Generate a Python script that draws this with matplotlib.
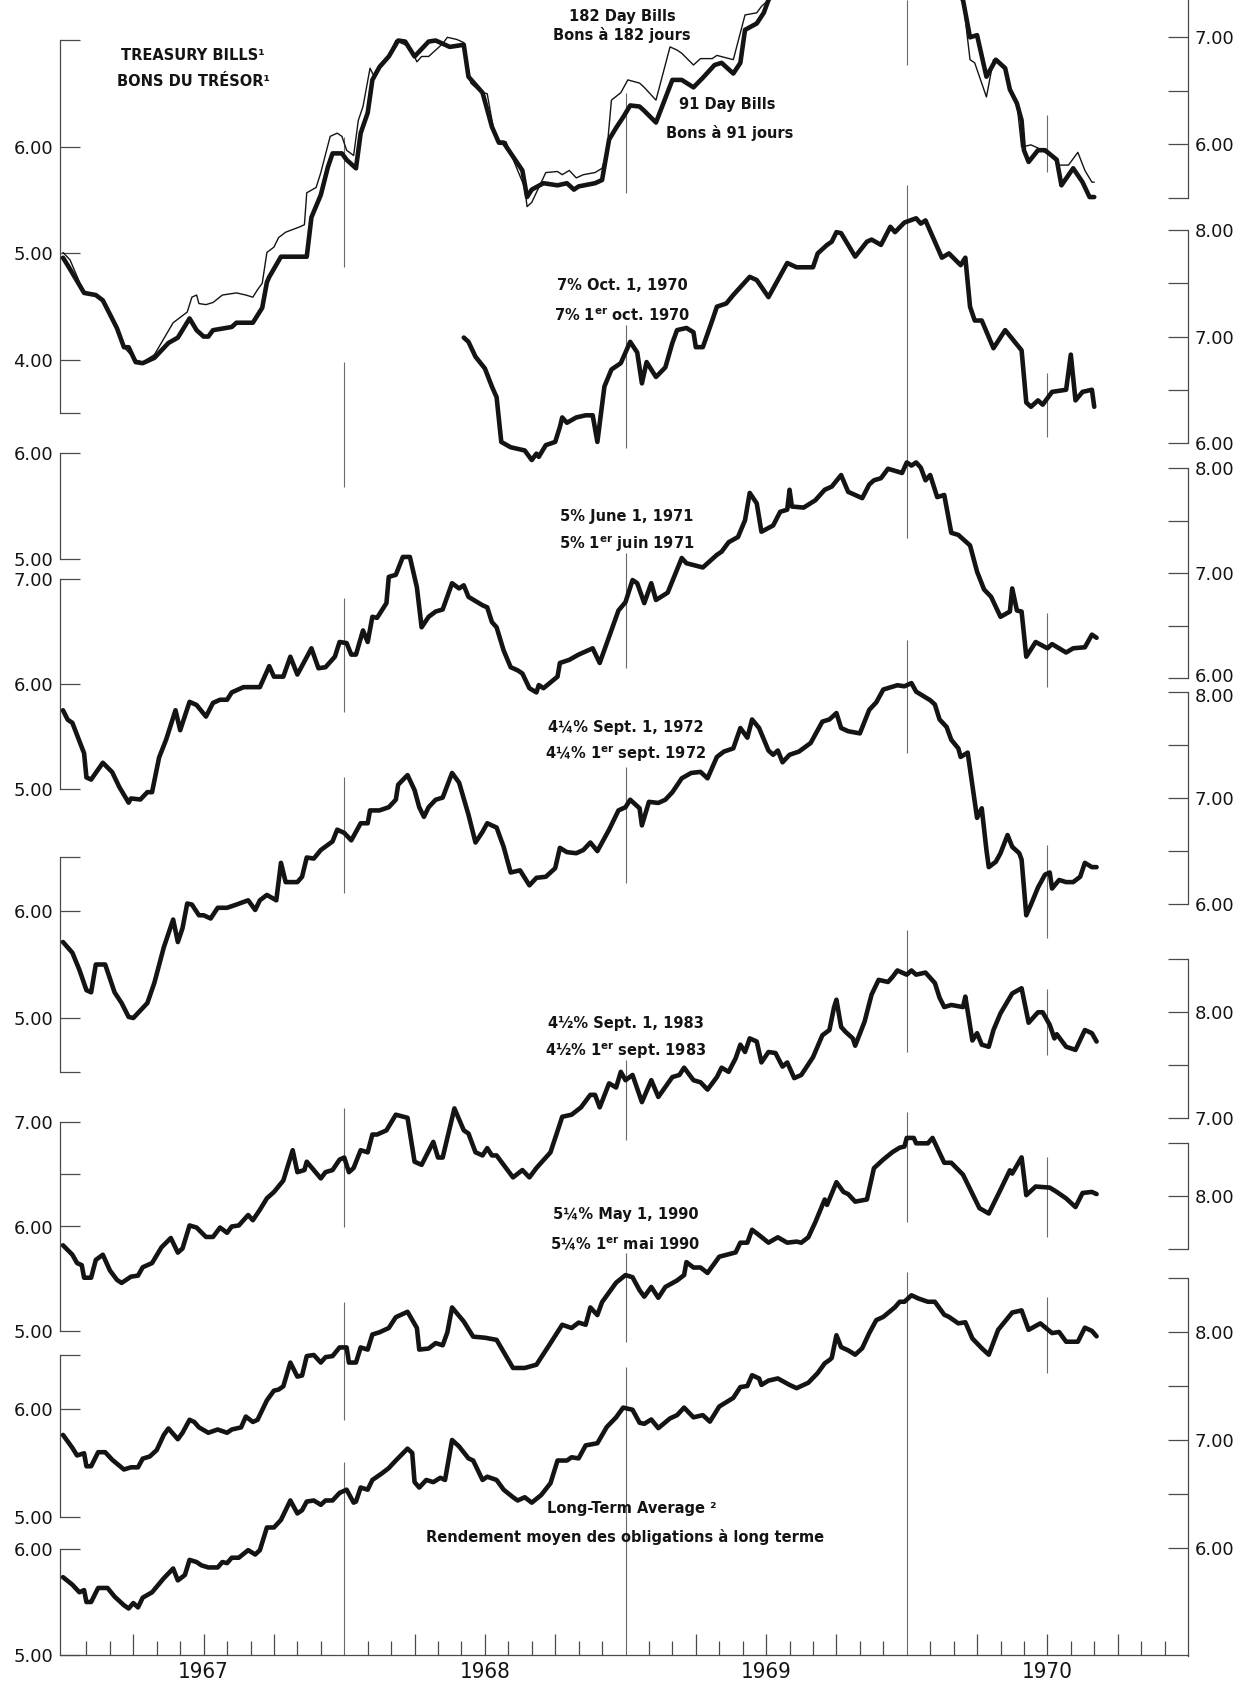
import numpy as np
import matplotlib.pyplot as plt
from matplotlib.transforms import ScaledTranslation

plt.rcParams['font.family'] = ['DejaVu Sans']

# Weekly yields, per cent: (months after 1 Jan 1967, yield)
bills_91 = [
    (0.0, 4.96), (0.2, 4.89), (0.9, 4.63), (1.4, 4.61), (1.7, 4.56), (2.3, 4.30), (2.6, 4.12),
    (2.8, 4.12), (3.1, 3.98), (3.4, 3.97), (3.9, 4.02), (4.5, 4.16), (4.9, 4.21), (5.4, 4.39),
    (5.7, 4.28), (6.0, 4.22), (6.2, 4.22), (6.4, 4.28), (7.2, 4.31), (7.4, 4.35), (8.1, 4.35),
    (8.5, 4.49), (8.7, 4.73), (8.8, 4.78), (9.3, 4.97), (10.4, 4.97), (10.6, 5.34), (11.0, 5.55),
    (11.3, 5.81), (11.5, 5.94), (11.9, 5.94), (12.1, 5.88), (12.5, 5.80), (12.7, 6.13), (13.0, 6.32),
    (13.2, 6.63), (13.5, 6.75), (13.9, 6.85), (14.3, 7.00), (14.6, 6.99), (15.0, 6.85), (15.6, 6.99),
    (15.9, 7.00), (16.2, 6.97), (16.5, 6.94), (17.1, 6.96), (17.3, 6.66), (17.9, 6.51), (18.3, 6.19),
    (18.6, 6.04), (18.8, 6.04), (19.6, 5.78), (19.8, 5.53), (20.0, 5.60), (20.5, 5.66), (21.1, 5.64),
    (21.5, 5.66), (21.8, 5.60), (22.0, 5.63), (22.7, 5.66), (23.0, 5.69), (23.3, 6.07), (23.6, 6.18),
    (23.9, 6.28), (24.2, 6.39), (24.6, 6.38), (24.8, 6.34), (25.3, 6.23), (26.0, 6.63), (26.4, 6.63),
    (26.9, 6.56), (27.3, 6.65), (27.8, 6.77), (28.1, 6.79), (28.6, 6.69), (28.9, 6.79), (29.1, 7.10),
    (29.6, 7.16), (29.9, 7.26), (30.1, 7.38), (30.6, 7.55), (31.5, 7.70), (32.5, 7.75), (33.5, 7.80),
    (34.5, 7.85), (35.5, 7.88), (36.5, 7.80), (37.3, 7.70), (38.0, 7.50), (38.4, 7.38), (38.7, 7.03),
    (39.0, 7.05), (39.4, 6.66), (39.8, 6.82), (40.2, 6.74), (40.4, 6.54), (40.7, 6.41), (40.9, 6.25),
    (41.0, 5.97), (41.2, 5.86), (41.6, 5.97), (41.9, 5.97), (42.4, 5.88), (42.6, 5.64), (43.1, 5.80),
    (43.5, 5.67), (43.8, 5.53), (44.0, 5.53),
]

bills_182 = [
    (0.0, 5.01), (0.3, 4.94), (0.9, 4.63), (1.4, 4.61), (1.7, 4.56), (2.3, 4.30), (2.6, 4.12),
    (3.1, 4.00), (3.4, 3.98), (3.9, 4.05), (4.7, 4.35), (5.3, 4.45), (5.5, 4.59), (5.7, 4.61),
    (5.8, 4.53), (6.1, 4.52), (6.4, 4.54), (6.8, 4.61), (7.4, 4.63), (7.8, 4.61), (8.1, 4.59),
    (8.3, 4.66), (8.5, 4.72), (8.7, 5.01), (9.0, 5.06), (9.2, 5.15), (9.5, 5.20), (10.1, 5.25),
    (10.3, 5.27), (10.4, 5.57), (10.8, 5.62), (11.0, 5.76), (11.4, 6.10), (11.7, 6.13), (11.9, 6.10),
    (12.1, 5.97), (12.4, 5.92), (12.6, 6.25), (12.8, 6.38), (13.1, 6.74), (13.3, 6.65), (13.5, 6.77),
    (13.9, 6.86), (14.2, 7.00), (14.8, 6.94), (15.1, 6.80), (15.3, 6.85), (15.6, 6.85), (16.2, 6.97),
    (16.4, 7.03), (16.8, 7.01), (17.1, 6.98), (17.4, 6.60), (17.8, 6.52), (18.1, 6.50), (18.4, 6.13),
    (18.5, 6.06), (18.9, 6.05), (19.1, 5.94), (19.7, 5.62), (19.8, 5.44), (20.0, 5.48), (20.6, 5.76),
    (21.1, 5.77), (21.3, 5.74), (21.6, 5.78), (21.9, 5.71), (22.2, 5.74), (22.7, 5.76), (23.0, 5.80),
    (23.2, 5.95), (23.4, 6.44), (23.8, 6.51), (24.1, 6.63), (24.6, 6.60), (24.8, 6.56), (25.3, 6.44),
    (25.9, 6.94), (26.2, 6.91), (26.4, 6.88), (26.9, 6.77), (27.2, 6.83), (27.7, 6.83), (27.9, 6.86),
    (28.6, 6.82), (29.1, 7.24), (29.6, 7.26), (29.8, 7.32), (30.1, 7.38), (30.6, 7.60), (31.5, 7.80),
    (32.5, 7.85), (33.5, 7.90), (34.5, 7.95), (35.5, 7.95), (36.5, 7.85), (37.3, 7.70), (38.0, 7.50),
    (38.4, 7.38), (38.7, 6.82), (38.9, 6.79), (39.4, 6.47), (39.7, 6.82), (40.2, 6.74), (40.4, 6.54),
    (40.7, 6.41), (40.9, 6.00), (41.3, 6.02), (41.6, 5.99), (42.2, 5.91), (42.5, 5.83), (42.9, 5.83),
    (43.3, 5.95), (43.6, 5.78), (43.9, 5.67), (44.0, 5.67),
]

bond_7_1970 = [
    (17.1, 6.99), (17.3, 6.95), (17.6, 6.81), (18.0, 6.70), (18.3, 6.53), (18.5, 6.43), (18.6, 6.22),
    (18.7, 6.01), (19.1, 5.96), (19.7, 5.93), (20.0, 5.84), (20.2, 5.90), (20.3, 5.87), (20.6, 5.98),
    (21.0, 6.01), (21.2, 6.15), (21.3, 6.24), (21.5, 6.19), (21.9, 6.24), (22.3, 6.26), (22.6, 6.26),
    (22.8, 6.01), (23.1, 6.53), (23.4, 6.69), (23.8, 6.75), (24.2, 6.95), (24.5, 6.85), (24.7, 6.56),
    (24.9, 6.76), (25.3, 6.62), (25.7, 6.71), (26.0, 6.94), (26.2, 7.06), (26.6, 7.08), (26.9, 7.04),
    (27.0, 6.90), (27.3, 6.90), (27.7, 7.15), (27.9, 7.28), (28.3, 7.31), (28.6, 7.39), (29.3, 7.56),
    (29.6, 7.53), (30.1, 7.37), (30.9, 7.69), (31.3, 7.65), (32.0, 7.65), (32.2, 7.78), (32.6, 7.86),
    (32.8, 7.89), (33.0, 7.98), (33.2, 7.97), (33.8, 7.75), (34.3, 7.89), (34.5, 7.91), (34.9, 7.86),
    (35.3, 8.03), (35.5, 7.98), (35.9, 8.07), (36.4, 8.11), (36.6, 8.06), (36.8, 8.09), (37.5, 7.74),
    (37.8, 7.78), (38.3, 7.67), (38.5, 7.74), (38.7, 7.28), (38.9, 7.15), (39.2, 7.15), (39.7, 6.89),
    (40.2, 7.06), (40.9, 6.87), (41.1, 6.38), (41.3, 6.34), (41.6, 6.40), (41.8, 6.36), (42.2, 6.48),
    (42.8, 6.50), (43.0, 6.83), (43.2, 6.40), (43.5, 6.48), (43.9, 6.50), (44.0, 6.34),
]

bond_5_1971 = [
    (0.0, 5.75), (0.2, 5.66), (0.4, 5.63), (0.9, 5.34), (1.0, 5.11), (1.2, 5.09), (1.7, 5.25),
    (2.1, 5.16), (2.4, 5.02), (2.8, 4.87), (2.9, 4.91), (3.3, 4.90), (3.6, 4.97), (3.8, 4.97),
    (4.1, 5.30), (4.4, 5.47), (4.8, 5.75), (5.0, 5.56), (5.4, 5.83), (5.7, 5.80), (6.1, 5.69),
    (6.4, 5.82), (6.7, 5.85), (7.0, 5.85), (7.2, 5.92), (7.7, 5.97), (8.4, 5.97), (8.8, 6.17),
    (9.0, 6.07), (9.4, 6.07), (9.7, 6.26), (10.0, 6.09), (10.6, 6.34), (10.9, 6.15), (11.2, 6.16),
    (11.6, 6.26), (11.8, 6.40), (12.1, 6.39), (12.3, 6.28), (12.5, 6.28), (12.8, 6.51), (13.0, 6.40),
    (13.2, 6.64), (13.4, 6.63), (13.8, 6.77), (13.9, 7.02), (14.2, 7.04), (14.5, 7.21), (14.8, 7.21),
    (15.1, 6.92), (15.3, 6.54), (15.6, 6.64), (15.9, 6.69), (16.2, 6.71), (16.6, 6.96), (16.9, 6.91),
    (17.1, 6.94), (17.3, 6.83), (17.9, 6.75), (18.1, 6.73), (18.3, 6.59), (18.5, 6.54), (18.8, 6.32),
    (19.1, 6.16), (19.4, 6.13), (19.6, 6.10), (19.9, 5.96), (20.2, 5.92), (20.3, 5.99), (20.5, 5.96),
    (21.1, 6.07), (21.2, 6.20), (21.6, 6.23), (22.0, 6.28), (22.6, 6.34), (22.9, 6.20), (23.3, 6.45),
    (23.7, 6.70), (24.0, 6.78), (24.3, 6.99), (24.5, 6.96), (24.8, 6.77), (25.1, 6.96), (25.3, 6.80),
    (25.8, 6.87), (26.4, 7.20), (26.6, 7.15), (27.3, 7.11), (27.9, 7.23), (28.1, 7.26), (28.4, 7.35),
    (28.8, 7.40), (29.1, 7.56), (29.3, 7.82), (29.6, 7.72), (29.8, 7.45), (30.3, 7.51), (30.6, 7.64),
    (30.9, 7.66), (31.0, 7.85), (31.1, 7.69), (31.6, 7.68), (32.1, 7.75), (32.5, 7.85), (32.8, 7.88),
    (33.2, 7.99), (33.5, 7.83), (34.1, 7.77), (34.4, 7.90), (34.6, 7.94), (34.9, 7.96), (35.2, 8.05),
    (35.8, 8.01), (36.0, 8.11), (36.2, 8.08), (36.4, 8.11), (36.6, 8.06), (36.8, 7.94), (37.0, 7.99),
    (37.3, 7.78), (37.6, 7.80), (37.9, 7.44), (38.2, 7.42), (38.7, 7.32), (39.0, 7.07), (39.3, 6.90),
    (39.6, 6.83), (40.0, 6.64), (40.4, 6.69), (40.5, 6.91), (40.7, 6.70), (40.9, 6.69), (41.1, 6.26),
    (41.5, 6.40), (42.0, 6.34), (42.2, 6.38), (42.8, 6.30), (43.1, 6.34), (43.6, 6.35), (43.9, 6.47),
    (44.1, 6.44),
]

bond_425_1972 = [
    (0.0, 5.71), (0.4, 5.61), (0.7, 5.45), (1.0, 5.26), (1.2, 5.24), (1.4, 5.50), (1.8, 5.50),
    (2.2, 5.24), (2.5, 5.14), (2.8, 5.01), (3.0, 5.00), (3.3, 5.07), (3.6, 5.14), (3.9, 5.33),
    (4.3, 5.66), (4.7, 5.92), (4.9, 5.71), (5.1, 5.84), (5.3, 6.07), (5.5, 6.06), (5.8, 5.96),
    (6.0, 5.96), (6.3, 5.93), (6.6, 6.03), (7.0, 6.03), (7.4, 6.06), (7.9, 6.10), (8.2, 6.01),
    (8.4, 6.10), (8.7, 6.15), (9.1, 6.10), (9.3, 6.45), (9.5, 6.27), (10.0, 6.27), (10.2, 6.32),
    (10.4, 6.50), (10.7, 6.49), (11.0, 6.57), (11.5, 6.65), (11.7, 6.76), (12.0, 6.73), (12.3, 6.66),
    (12.7, 6.82), (13.0, 6.82), (13.1, 6.94), (13.5, 6.94), (13.9, 6.97), (14.2, 7.04), (14.3, 7.18),
    (14.7, 7.27), (15.0, 7.13), (15.2, 6.97), (15.4, 6.88), (15.6, 6.97), (15.9, 7.04), (16.2, 7.06),
    (16.6, 7.29), (16.9, 7.20), (17.3, 6.90), (17.6, 6.64), (17.9, 6.74), (18.1, 6.82), (18.5, 6.78),
    (18.8, 6.60), (19.1, 6.36), (19.5, 6.38), (19.9, 6.24), (20.2, 6.31), (20.6, 6.32), (21.0, 6.40),
    (21.2, 6.59), (21.5, 6.55), (21.9, 6.54), (22.2, 6.57), (22.5, 6.64), (22.8, 6.56), (23.3, 6.76),
    (23.7, 6.94), (24.0, 6.97), (24.2, 7.04), (24.6, 6.96), (24.7, 6.80), (25.0, 7.02), (25.4, 7.01),
    (25.7, 7.04), (26.0, 7.11), (26.4, 7.24), (26.8, 7.29), (27.2, 7.30), (27.5, 7.24), (27.9, 7.44),
    (28.2, 7.49), (28.6, 7.52), (28.9, 7.71), (29.2, 7.62), (29.4, 7.79), (29.7, 7.71), (30.1, 7.50),
    (30.3, 7.46), (30.5, 7.50), (30.7, 7.39), (31.0, 7.46), (31.4, 7.49), (31.9, 7.57), (32.4, 7.77),
    (32.7, 7.79), (33.0, 7.85), (33.2, 7.71), (33.5, 7.68), (34.0, 7.66), (34.4, 7.88), (34.7, 7.95),
    (35.0, 8.07), (35.3, 8.09), (35.6, 8.11), (35.9, 8.10), (36.2, 8.13), (36.4, 8.05), (37.0, 7.97),
    (37.2, 7.93), (37.4, 7.79), (37.7, 7.72), (37.9, 7.60), (38.2, 7.52), (38.3, 7.44), (38.6, 7.48),
    (39.0, 6.87), (39.2, 6.96), (39.4, 6.57), (39.5, 6.41), (39.8, 6.46), (40.0, 6.54), (40.3, 6.71),
    (40.5, 6.60), (40.8, 6.54), (40.9, 6.48), (41.1, 5.96), (41.3, 6.06), (41.6, 6.22), (41.9, 6.34),
    (42.1, 6.36), (42.2, 6.21), (42.5, 6.29), (42.8, 6.27), (43.1, 6.27), (43.4, 6.32), (43.6, 6.45),
    (43.9, 6.41), (44.1, 6.41),
]

bond_45_1983 = [
    (0.0, 5.82), (0.4, 5.73), (0.6, 5.65), (0.8, 5.63), (0.9, 5.51), (1.2, 5.51), (1.4, 5.68),
    (1.7, 5.73), (2.0, 5.58), (2.3, 5.49), (2.5, 5.46), (2.9, 5.52), (3.2, 5.53), (3.4, 5.61),
    (3.8, 5.65), (4.2, 5.80), (4.6, 5.89), (4.9, 5.75), (5.1, 5.79), (5.4, 6.01), (5.7, 5.99),
    (6.1, 5.90), (6.4, 5.90), (6.7, 5.99), (7.0, 5.94), (7.2, 6.00), (7.5, 6.01), (7.9, 6.11),
    (8.1, 6.06), (8.4, 6.16), (8.7, 6.27), (9.0, 6.33), (9.4, 6.44), (9.8, 6.73), (10.0, 6.52),
    (10.3, 6.54), (10.4, 6.62), (11.0, 6.46), (11.2, 6.52), (11.5, 6.54), (11.8, 6.64), (12.0, 6.66),
    (12.2, 6.52), (12.4, 6.56), (12.7, 6.73), (13.0, 6.71), (13.2, 6.88), (13.4, 6.88), (13.8, 6.92),
    (14.2, 7.07), (14.7, 7.04), (15.0, 6.62), (15.3, 6.59), (15.8, 6.81), (16.0, 6.66), (16.2, 6.66),
    (16.7, 7.13), (17.1, 6.92), (17.3, 6.89), (17.6, 6.71), (17.9, 6.68), (18.1, 6.75), (18.3, 6.68),
    (18.5, 6.68), (19.2, 6.47), (19.6, 6.54), (19.9, 6.47), (20.2, 6.56), (20.6, 6.66), (20.8, 6.71),
    (21.3, 7.05), (21.7, 7.07), (22.1, 7.14), (22.5, 7.26), (22.7, 7.26), (22.9, 7.14), (23.3, 7.37),
    (23.6, 7.33), (23.8, 7.48), (24.0, 7.40), (24.3, 7.45), (24.7, 7.19), (25.1, 7.40), (25.4, 7.24),
    (26.0, 7.43), (26.3, 7.45), (26.5, 7.52), (26.9, 7.40), (27.2, 7.38), (27.5, 7.31), (27.9, 7.43),
    (28.1, 7.52), (28.4, 7.48), (28.7, 7.61), (28.9, 7.74), (29.1, 7.67), (29.3, 7.80), (29.6, 7.77),
    (29.8, 7.57), (30.1, 7.67), (30.4, 7.66), (30.7, 7.53), (30.9, 7.57), (31.2, 7.42), (31.5, 7.45),
    (32.0, 7.62), (32.4, 7.83), (32.7, 7.88), (32.9, 8.10), (33.0, 8.17), (33.2, 7.91), (33.4, 7.86),
    (33.7, 7.80), (33.8, 7.73), (34.2, 7.96), (34.5, 8.22), (34.8, 8.36), (35.2, 8.34), (35.4, 8.39),
    (35.6, 8.45), (36.0, 8.41), (36.2, 8.45), (36.4, 8.41), (36.8, 8.43), (37.2, 8.33), (37.4, 8.19),
    (37.6, 8.10), (37.9, 8.12), (38.4, 8.10), (38.5, 8.20), (38.8, 7.78), (39.0, 7.85), (39.2, 7.74),
    (39.5, 7.72), (39.7, 7.88), (40.0, 8.04), (40.5, 8.23), (40.9, 8.28), (41.2, 7.95), (41.6, 8.05),
    (41.8, 8.05), (42.1, 7.93), (42.3, 7.80), (42.4, 7.84), (42.8, 7.72), (43.2, 7.69), (43.6, 7.88),
    (43.9, 7.85), (44.1, 7.77),
]

bond_525_1990 = [
    (0.0, 5.76), (0.4, 5.64), (0.6, 5.57), (0.9, 5.59), (1.0, 5.47), (1.2, 5.47), (1.5, 5.60),
    (1.8, 5.60), (2.1, 5.53), (2.6, 5.44), (2.9, 5.46), (3.2, 5.46), (3.4, 5.54), (3.7, 5.56),
    (4.0, 5.62), (4.3, 5.76), (4.5, 5.82), (4.9, 5.72), (5.1, 5.78), (5.4, 5.90), (5.6, 5.88),
    (5.8, 5.83), (6.2, 5.78), (6.6, 5.81), (7.0, 5.78), (7.2, 5.81), (7.6, 5.83), (7.8, 5.93),
    (8.1, 5.88), (8.3, 5.90), (8.7, 6.08), (9.0, 6.17), (9.2, 6.18), (9.4, 6.21), (9.7, 6.43),
    (10.0, 6.30), (10.2, 6.31), (10.4, 6.49), (10.7, 6.50), (11.0, 6.43), (11.2, 6.48), (11.5, 6.49),
    (11.8, 6.57), (12.1, 6.57), (12.2, 6.43), (12.5, 6.43), (12.7, 6.57), (13.0, 6.55), (13.2, 6.69),
    (13.5, 6.71), (13.9, 6.75), (14.2, 6.85), (14.7, 6.90), (15.1, 6.75), (15.2, 6.55), (15.6, 6.56),
    (15.9, 6.61), (16.2, 6.59), (16.4, 6.71), (16.6, 6.94), (17.1, 6.81), (17.5, 6.67), (18.0, 6.66),
    (18.5, 6.64), (19.2, 6.38), (19.7, 6.38), (20.2, 6.41), (20.8, 6.61), (21.3, 6.78), (21.7, 6.75),
    (22.0, 6.80), (22.3, 6.78), (22.5, 6.94), (22.8, 6.87), (23.0, 6.99), (23.6, 7.17), (24.0, 7.24),
    (24.3, 7.22), (24.6, 7.10), (24.8, 7.04), (25.1, 7.13), (25.4, 7.03), (25.7, 7.13), (26.2, 7.19),
    (26.5, 7.24), (26.6, 7.36), (26.9, 7.31), (27.2, 7.31), (27.5, 7.26), (27.8, 7.35), (28.0, 7.41),
    (28.7, 7.45), (28.9, 7.54), (29.2, 7.54), (29.4, 7.66), (29.7, 7.61), (30.1, 7.54), (30.5, 7.59),
    (30.9, 7.54), (31.3, 7.55), (31.5, 7.54), (31.8, 7.59), (32.1, 7.73), (32.5, 7.94), (32.6, 7.89),
    (33.0, 8.10), (33.3, 8.01), (33.5, 7.99), (33.8, 7.92), (34.3, 7.94), (34.6, 8.23), (35.0, 8.31),
    (35.4, 8.38), (35.7, 8.42), (35.9, 8.43), (36.0, 8.51), (36.3, 8.51), (36.4, 8.46), (36.9, 8.46),
    (37.1, 8.51), (37.6, 8.28), (37.9, 8.28), (38.4, 8.17), (39.1, 7.86), (39.5, 7.81), (40.0, 8.03),
    (40.4, 8.21), (40.5, 8.18), (40.9, 8.33), (41.1, 7.98), (41.5, 8.06), (42.1, 8.05), (42.4, 8.01),
    (42.8, 7.95), (43.2, 7.87), (43.5, 8.00), (43.9, 8.01), (44.1, 7.99),
]

long_term_avg = [
    (0.0, 5.73), (0.4, 5.66), (0.7, 5.59), (0.9, 5.61), (1.0, 5.50), (1.2, 5.50), (1.5, 5.63),
    (1.9, 5.63), (2.2, 5.55), (2.6, 5.47), (2.8, 5.44), (3.0, 5.49), (3.2, 5.45), (3.4, 5.54),
    (3.8, 5.59), (4.3, 5.72), (4.7, 5.81), (4.9, 5.70), (5.2, 5.75), (5.4, 5.89), (5.7, 5.87),
    (5.9, 5.84), (6.2, 5.82), (6.6, 5.82), (6.8, 5.87), (7.0, 5.86), (7.2, 5.91), (7.5, 5.91),
    (7.9, 5.98), (8.2, 5.94), (8.4, 5.98), (8.7, 6.19), (9.0, 6.19), (9.3, 6.26), (9.7, 6.44),
    (10.0, 6.32), (10.2, 6.35), (10.4, 6.43), (10.7, 6.44), (11.0, 6.40), (11.2, 6.44), (11.5, 6.44),
    (11.8, 6.51), (12.1, 6.54), (12.4, 6.42), (12.5, 6.43), (12.7, 6.56), (13.0, 6.54), (13.2, 6.63),
    (13.6, 6.69), (13.9, 6.74), (14.2, 6.81), (14.7, 6.92), (14.9, 6.88), (15.0, 6.61), (15.2, 6.56),
    (15.5, 6.63), (15.8, 6.61), (16.1, 6.65), (16.3, 6.63), (16.6, 7.00), (16.9, 6.94), (17.3, 6.83),
    (17.5, 6.81), (17.9, 6.63), (18.1, 6.66), (18.5, 6.63), (18.8, 6.54), (19.2, 6.47), (19.4, 6.44),
    (19.7, 6.47), (20.0, 6.42), (20.4, 6.49), (20.8, 6.60), (21.1, 6.81), (21.5, 6.81), (21.7, 6.84),
    (22.0, 6.83), (22.3, 6.95), (22.8, 6.97), (23.2, 7.12), (23.6, 7.21), (23.9, 7.30), (24.3, 7.28),
    (24.6, 7.16), (24.8, 7.15), (25.1, 7.19), (25.4, 7.11), (25.9, 7.20), (26.2, 7.23), (26.5, 7.30),
    (26.9, 7.21), (27.3, 7.23), (27.6, 7.17), (28.0, 7.31), (28.6, 7.39), (28.9, 7.49), (29.2, 7.50),
    (29.4, 7.60), (29.7, 7.57), (29.8, 7.51), (30.1, 7.55), (30.5, 7.57), (31.0, 7.51), (31.3, 7.48),
    (31.8, 7.53), (32.2, 7.62), (32.5, 7.71), (32.7, 7.74), (32.8, 7.76), (33.0, 7.97), (33.2, 7.86),
    (33.5, 7.83), (33.8, 7.79), (34.1, 7.85), (34.4, 7.99), (34.7, 8.11), (35.0, 8.14), (35.5, 8.23),
    (35.7, 8.28), (35.9, 8.28), (36.2, 8.34), (36.5, 8.31), (36.9, 8.28), (37.2, 8.28), (37.6, 8.16),
    (37.8, 8.14), (38.2, 8.08), (38.5, 8.09), (38.8, 7.94), (39.2, 7.85), (39.5, 7.79), (39.9, 8.02),
    (40.5, 8.18), (40.9, 8.20), (41.2, 8.02), (41.7, 8.08), (42.2, 7.99), (42.5, 8.00), (42.8, 7.91),
    (43.3, 7.91), (43.6, 8.04), (43.9, 8.01), (44.1, 7.96),
]

years = ['1967', '1968', '1969', '1970']

# ---- layout (pixels on a 1251 x 1685 canvas, y measured from the top) ----
W, H = 1251, 1685
X0, X1 = 60, 1188          # left / right scale rules
XM0 = 63                   # 1 Jan 1967
Y_AX = 1655                # month axis
PPM = (X1 - XM0) / 48.0
XLIM = ((X0 - XM0) / PPM, (X1 - XM0) / PPM)

INK = '#141414'
RULE = '#4a4a4a'
GRID = '#6a6a6a'
THICK = 3.3

fig = plt.figure(figsize=(W / 100, H / 100), dpi=100)
fig.patch.set_facecolor('white')
rect = [X0 / W, (H - Y_AX) / H, (X1 - X0) / W, Y_AX / H]


def ylim_from(pa, va, pb, vb):
    k = (pb - pa) / (va - vb)
    return va - (Y_AX - pa) / k, va + pa / k


# base axes: month axis, year rules and captions (y in pixels)
base = fig.add_axes(rect)
base.set_xlim(*XLIM)
base.set_ylim(Y_AX, 0)
base.patch.set_visible(False)
for s in base.spines.values():
    s.set_visible(False)
base.spines['bottom'].set_visible(True)
base.spines['bottom'].set_color(RULE)
base.spines['bottom'].set_linewidth(0.9)
base.set_yticks([])
months = np.arange(1, 48)
base.set_xticks([m for m in months if m % 3 == 0 and m % 12 != 0])
base.set_xticks([m for m in months if m % 3 != 0], minor=True)
base.set_xlim(*XLIM)
base.tick_params(axis='x', which='major', direction='in', length=15, width=0.9,
                 color=RULE, labelbottom=False)
base.tick_params(axis='x', which='minor', direction='in', length=10, width=0.9, color=RULE)

for i, yr in enumerate(years):
    base.text(6 + 12 * i, 1672, yr, ha='center', va='center', fontsize=16,
              fontstretch='condensed', color=INK)

year_rules = {
    12: [(137, 267), (362, 487), (598, 712), (777, 893), (1108, 1227), (1302, 1420), (1462, 1655)],
    24: [(93, 193), (325, 448), (553, 668), (767, 883), (1060, 1140), (1253, 1342), (1367, 1655)],
    36: [(0, 65), (185, 538), (640, 753), (930, 1052), (1112, 1222), (1272, 1655)],
    42: [(115, 172), (373, 437), (613, 687), (845, 938), (989, 1055), (1157, 1237), (1297, 1373)],
}
for m, spans in year_rules.items():
    for top, bot in spans:
        base.vlines(m, top, bot, color=GRID, lw=0.8, zorder=1)

lab = dict(ha='center', va='center', fontsize=10.5, fontweight='bold', color=INK)
base.text(5.55, 55, 'TREASURY BILLS¹', **lab)
base.text(5.55, 82, 'BONS DU TRÉSOR¹', **lab)
base.text(23.85, 17, '182 Day Bills', **lab)
base.text(23.85, 35, 'Bons à 182 jours', **lab)
base.text(28.35, 105, '91 Day Bills', **lab)
base.text(28.45, 133, 'Bons à 91 jours', **lab)
base.text(23.85, 286, '7% Oct. 1, 1970', **lab)
base.text(23.85, 315, '7% 1$^{\\mathbf{er}}$ oct. 1970', **lab)
base.text(24.05, 516, '5% June 1, 1971', **lab)
base.text(24.05, 544, '5% 1$^{\\mathbf{er}}$ juin 1971', **lab)
base.text(24.0, 727, '4¼% Sept. 1, 1972', **lab)
base.text(24.0, 754, '4¼% 1$^{\\mathbf{er}}$ sept. 1972', **lab)
base.text(24.0, 1023, '4½% Sept. 1, 1983', **lab)
base.text(24.0, 1051, '4½% 1$^{\\mathbf{er}}$ sept. 1983', **lab)
base.text(24.0, 1214, '5¼% May 1, 1990', **lab)
base.text(24.0, 1243, '5¼% 1$^{\\mathbf{er}}$ mai 1990', **lab)
base.text(24.25, 1508, 'Long-Term Average ²', **lab)
base.text(24.0, 1537, 'Rendement moyen des obligations à long terme', **lab)


def labels(ticks, shown):
    return [f'{t:.2f}' if t in shown else '' for t in ticks]


def panel(lref, rref, lticks, lshown, lspan, rticks, rshown, rspan):
    ax = fig.add_axes(rect)
    axr = ax.twinx()
    for a in (ax, axr):
        a.patch.set_visible(False)
        for s in a.spines.values():
            s.set_visible(False)
            s.set_color(RULE)
            s.set_linewidth(0.9)
        a.xaxis.set_visible(False)
        a.tick_params(axis='y', direction='in', length=14.4, width=0.9, color=RULE,
                      labelsize=13, labelcolor=INK, pad=5)
    ax.spines['left'].set_visible(True)
    ax.spines['left'].set_bounds(*lspan)
    ax.set_yticks(lticks, labels(lticks, lshown))
    axr.spines['right'].set_visible(True)
    axr.spines['right'].set_bounds(*rspan)
    axr.set_yticks(rticks, labels(rticks, rshown))
    # limits last, so the tick lists cannot widen them
    ax.set_xlim(*XLIM)
    ax.set_ylim(*ylim_from(*lref))
    axr.set_ylim(*ylim_from(*rref))
    return ax, axr


def nudge(axis_obj, value, dy_px):
    for t, lbl in zip(axis_obj.get_yticks(), axis_obj.get_yticklabels()):
        if abs(t - value) < 1e-9:
            lbl.set_transform(lbl.get_transform() +
                              ScaledTranslation(0, dy_px / 100, fig.dpi_scale_trans))


def draw(ax, series, lw=THICK, z=3):
    m, v = np.array(series).T
    ax.plot(m, v, color=INK, lw=lw, solid_joinstyle='round', solid_capstyle='round', zorder=z)


half = [6.0, 6.5, 7.0, 7.5, 8.0]

ax, axr = panel((147, 6, 360, 4), (37, 7, 144, 6),
                [3.5, 4, 5, 6, 7], [4, 5, 6], (3.5, 7),
                [5.5, 6, 6.5, 7, 7.5], [6, 7], (5.5, 7.6))
draw(ax, bills_91)
draw(ax, bills_182, lw=1.0, z=4)

ax, axr = panel((453, 6, 559, 5), (230, 8, 443, 6),
                [5, 6], [5, 6], (5, 6),
                half, [6, 7, 8], (6, 8))
draw(axr, bond_7_1970)

ax, axr = panel((579, 7, 789, 5), (468, 8, 678, 6),
                [5, 6, 7], [5, 6, 7], (5, 7),
                half, [6, 7, 8], (6, 8))
draw(ax, bond_5_1971)
nudge(axr, 6.0, 3)

ax, axr = panel((911, 6, 1018, 5), (692, 8, 904, 6),
                [4.5, 5, 6, 6.5], [5, 6], (4.5, 6.5),
                half, [6, 7, 8], (6, 8))
draw(ax, bond_425_1972)
nudge(axr, 8.0, -3)

ax, axr = panel((1122, 7, 1331, 5), (1012, 8, 1118, 7),
                [5, 6, 6.5, 7], [5, 6, 7], (5, 7),
                [7, 7.5, 8, 8.5], [7, 8], (7, 8.5))
draw(ax, bond_45_1983)

ax, axr = panel((1409, 6, 1517, 5), (1196, 8, 1302, 7),
                [5, 6, 6.5], [5, 6], (5, 6.5),
                [7.5, 8, 8.5], [8], (7.5, 8.5))
draw(ax, bond_525_1990)

ax, axr = panel((1549, 6, 1655, 5), (1332, 8, 1548, 6),
                [5, 6], [5, 6], (5, 6),
                [6, 6.5, 7, 7.5, 8, 8.5], [6, 7, 8], (5.0, 8.5))
draw(axr, long_term_avg)

fig.savefig('out.png', dpi=100, facecolor='white')
